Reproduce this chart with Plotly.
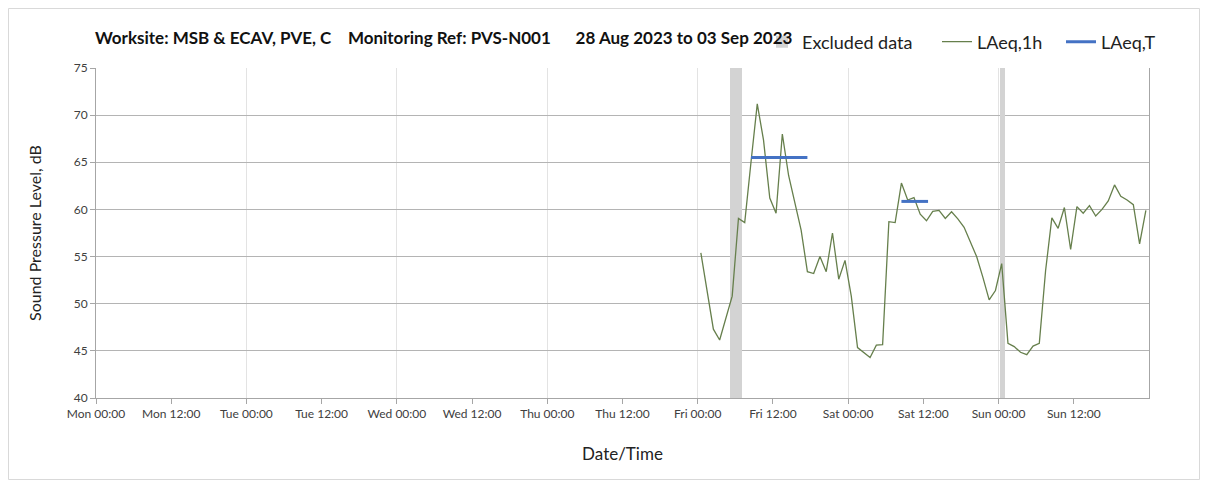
import pandas as pd
import plotly.graph_objects as go

# hourly LAeq,1h values, Fri 01 Sep 2023 00:30 onwards
laeq_1h_start = "2023-09-01 00:30"
laeq_1h = [
    55.4, 51.4, 47.3, 46.15, 48.5, 50.8, 59.05, 58.6, 65.0, 71.2, 67.35, 61.2,
    59.6, 68.0, 63.6, 60.8, 57.8, 53.4, 53.2, 55.0, 53.4, 57.5, 52.6, 54.6,
    50.8, 45.35, 44.8, 44.3, 45.6, 45.65, 58.7, 58.6, 62.8, 61.0, 61.25, 59.5,
    58.8, 59.8, 59.9, 59.05, 59.75, 59.0, 58.1, 56.6, 55.0, 52.8, 50.4, 51.4,
    54.25, 45.8, 45.45, 44.85, 44.6, 45.5, 45.8, 53.5, 59.1, 58.0, 60.2, 55.75,
    60.3, 59.6, 60.4, 59.3, 60.0, 60.9, 62.6, 61.4, 61.0, 60.5, 56.35, 59.9,
]

# LAeq,T periods
laeq_t_start = ["2023-09-01 08:30", "2023-09-02 08:30"]
laeq_t_end = ["2023-09-01 17:30", "2023-09-02 12:45"]
laeq_t = [65.5, 60.85]

# excluded periods
excl_start = ["2023-09-01 05:10", "2023-09-03 00:10"]
excl_end = ["2023-09-01 07:05", "2023-09-03 01:05"]

tick_labels = ["Mon 00:00", "Mon 12:00", "Tue 00:00", "Tue 12:00", "Wed 00:00",
               "Wed 12:00", "Thu 00:00", "Thu 12:00", "Fri 00:00", "Fri 12:00",
               "Sat 00:00", "Sat 12:00", "Sun 00:00", "Sun 12:00"]

x_start = pd.Timestamp("2023-08-28 00:00")
x_end = pd.Timestamp("2023-09-04 00:00")
y_min, y_max = 40, 75

FONT = "Lato"
GREY_TXT = "#404040"

# figure size / margins (page has an 8px body margin)
W, H = 1192, 472
ML, MR, MT, MB = 88, 51, 60, 82
pw, ph = W - ML - MR, H - MT - MB

times_1h = pd.date_range(laeq_1h_start, periods=len(laeq_1h), freq="h")

tx, ty = [], []
for s, e, v in zip(laeq_t_start, laeq_t_end, laeq_t):
    tx += [pd.Timestamp(s), pd.Timestamp(e), None]
    ty += [v, v, None]

ex_s = [pd.Timestamp(s) for s in excl_start]
ex_e = [pd.Timestamp(e) for e in excl_end]
ex_mid = [s + (e - s) / 2 for s, e in zip(ex_s, ex_e)]
ex_w = [(e - s).total_seconds() * 1000 for s, e in zip(ex_s, ex_e)]

fig = go.Figure()
fig.add_trace(go.Bar(
    x=ex_mid, y=[y_max - y_min] * len(ex_mid), base=y_min, width=ex_w,
    marker=dict(color="#D3D3D3", line=dict(width=0)),
    name="Excluded data", legend="legend", showlegend=True,
))
fig.add_trace(go.Scatter(
    x=times_1h, y=laeq_1h, mode="lines", name="LAeq,1h",
    line=dict(color="#667F4C", width=1.3), legend="legend2", showlegend=True,
))
fig.add_trace(go.Scatter(
    x=tx, y=ty, mode="lines", name="LAeq,T",
    line=dict(color="#4472C4", width=3), legend="legend3", showlegend=True,
))

tickvals = pd.date_range(x_start, periods=len(tick_labels), freq="12h")

fig.update_xaxes(
    range=[x_start, x_end], tickvals=tickvals, ticktext=tick_labels,
    showgrid=False, showline=True, linecolor="#A6A6A6", linewidth=1,
    ticks="outside", ticklen=5, tickcolor="#A6A6A6",
    tickfont=dict(family=FONT, size=12, color=GREY_TXT),
    minor=dict(dtick=86400000, tick0=x_start, showgrid=True,
               gridcolor="#E3E3E3", gridwidth=1, ticks=""),
    title=dict(text="Date/Time", font=dict(family=FONT, size=17, color="#222"),
               standoff=27),
)
fig.update_yaxes(
    range=[y_min, y_max], dtick=5, showgrid=True, gridcolor="#B4B4B4",
    showline=True, mirror=True, linecolor="#A6A6A6", linewidth=1,
    ticks="outside", ticklen=5, tickcolor="#A6A6A6",
    tickfont=dict(family=FONT, size=12, color=GREY_TXT),
    title=dict(text="Sound Pressure Level, dB",
               font=dict(family=FONT, size=16, color="#222"), standoff=28),
)


def legend_at(page_x):
    return dict(
        orientation="h", x=(page_x - 8 - ML) / pw, xanchor="left",
        y=1 + (MT - 34) / ph, yanchor="middle",
        font=dict(family=FONT, size=18, color="#222"),
        bgcolor="rgba(0,0,0,0)",
    )


fig.update_layout(
    width=W, height=H,
    margin=dict(l=ML, r=MR, t=MT, b=MB),
    plot_bgcolor="white", paper_bgcolor="white",
    barmode="overlay", bargap=0, showlegend=True,
    title=dict(
        text="<b>Worksite: MSB &amp; ECAV, PVE, C&nbsp;&nbsp;&nbsp;&nbsp;Monitoring Ref: PVS-N001"
             "&nbsp;&nbsp;&nbsp;&nbsp;&nbsp;&nbsp;28 Aug 2023 to 03 Sep 2023</b>",
        x=87 / W, xanchor="left", y=1 - 30 / H, yanchor="middle",
        font=dict(family=FONT, size=17, color="#111"),
    ),
    legend=legend_at(762),
    legend2=legend_at(937),
    legend3=legend_at(1061),
    shapes=[dict(type="rect", xref="paper", yref="paper",
                 x0=-(ML - 0.5) / pw, x1=1 + (MR - 0.5) / pw,
                 y0=-(MB - 0.5) / ph, y1=1 + (MT - 0.5) / ph,
                 line=dict(color="#D9D9D9", width=1), layer="below")],
)

fig.write_html("out.html")
